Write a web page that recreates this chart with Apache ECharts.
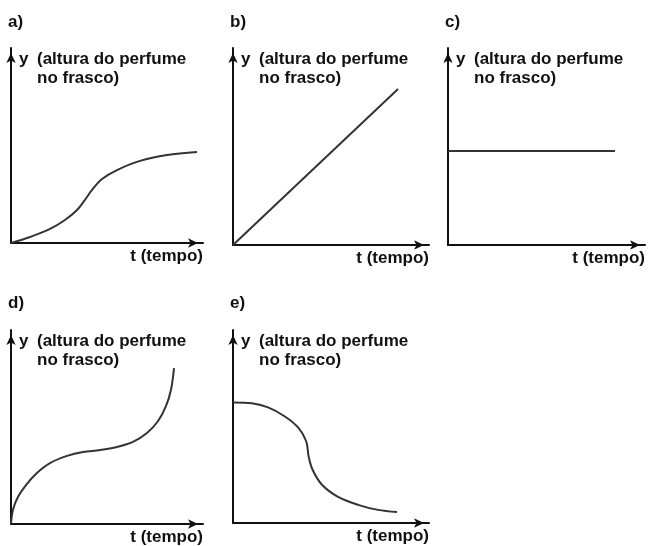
<!DOCTYPE html>
<html>
<head>
<meta charset="utf-8">
<script src="https://cdn.jsdelivr.net/npm/echarts@6/dist/echarts.min.js"></script>
<style>
  html, body { margin: 0; padding: 0; background: #fff; }
  #main { width: 648px; height: 546px; }
</style>
</head>
<body>
<div id="main"></div>
<script>
// curves, [t, y] in 0..100 units of each panel's axes
var curveA = [[0, 0], [9.9, 3.1], [20.3, 7.2], [28.1, 11.8], [34.4, 16.9], [38.5, 22.1], [42.2, 27.2],
  [47.4, 32.8], [55.2, 37.4], [67.2, 42.1], [81.3, 45.1], [96.9, 46.7]];
var curveB = [[0, 0], [84.2, 79.2]];
var curveC = [[0, 47.7], [84.8, 47.7]];
var curveD = [[0, 0], [1.0, 7.2], [3.6, 13.9], [7.8, 20.1], [13.5, 26.3], [20.3, 31.4], [29.2, 35.1],
  [37.5, 37.1], [46.4, 38.1], [55.2, 39.7], [63.5, 42.3], [70.8, 46.9], [76.6, 53.1], [80.7, 60.8],
  [83.3, 69.1], [84.9, 80.4]];
var curveE = [[0, 62.5], [9.7, 62], [17.9, 59.9], [26.5, 55.2], [33.2, 49.5], [37.3, 42.5], [38.6, 34.4],
  [40.6, 27.6], [45.4, 19.8], [53.6, 13.5], [63.8, 9.4], [74, 6.8], [83.7, 5.7]];

var panelLetters = ['a)', 'b)', 'c)', 'd)', 'e)'];
var yTitle = ['y', '(altura do perfume', 'no frasco)'];
var xTitle = 't (tempo)';

var curves = [curveA, curveB, curveC, curveD, curveE];
var smoothOn = [true, false, false, true, true];

// panel boxes: axis origin at bottom-left, arrow tips at top / right
var panels = [
  { left: 11, top: 48, width: 192, height: 195 },
  { left: 233, top: 48, width: 196, height: 197 },
  { left: 448, top: 48, width: 197, height: 197 },
  { left: 11, top: 330, width: 192, height: 194 },
  { left: 233, top: 330, width: 196, height: 193 }
];

var FONT = 'bold 17px "Liberation Sans", Arial, sans-serif';
var INK = '#111';

function axisCfg(idx) {
  return {
    type: 'value', gridIndex: idx, min: 0, max: 100,
    axisLine: {
      show: true, onZero: false,
      symbol: ['none', 'arrow'], symbolSize: [7, 10], symbolOffset: [0, -5],
      lineStyle: { color: INK, width: 2 }
    },
    axisTick: { show: false }, axisLabel: { show: false }, splitLine: { show: false }
  };
}

var grids = [], xAxes = [], yAxes = [], series = [], texts = [];
panels.forEach(function (p, i) {
  grids.push({ left: p.left, top: p.top, width: p.width, height: p.height });
  xAxes.push(axisCfg(i));
  yAxes.push(axisCfg(i));
  series.push({
    type: 'line', xAxisIndex: i, yAxisIndex: i, data: curves[i],
    smooth: smoothOn[i] ? 0.35 : false,
    showSymbol: false, silent: true,
    lineStyle: { color: '#333', width: 2 }
  });

  var top = p.top;
  var x0 = p.left;
  var bottom = p.top + p.height;
  var right = p.left + p.width;
  var letterY = i < 3 ? 22 : 303;
  texts.push({ type: 'text', style: { text: panelLetters[i], x: x0 - 3, y: letterY, font: FONT, fill: INK, textVerticalAlign: 'middle' } });
  texts.push({ type: 'text', style: { text: yTitle[0], x: x0 + 8, y: top + 11, font: FONT, fill: INK, textVerticalAlign: 'middle' } });
  texts.push({ type: 'text', style: { text: yTitle[1], x: x0 + 26, y: top + 11, font: FONT, fill: INK, textVerticalAlign: 'middle' } });
  texts.push({ type: 'text', style: { text: yTitle[2], x: x0 + 26, y: top + 30, font: FONT, fill: INK, textVerticalAlign: 'middle' } });
  texts.push({ type: 'text', style: { text: xTitle, x: right, y: bottom + 13, font: FONT, fill: INK, textAlign: 'right', textVerticalAlign: 'middle' } });
});

var myChart = echarts.init(document.getElementById('main'));
myChart.setOption({
  animation: false,
  backgroundColor: '#fff',
  grid: grids,
  xAxis: xAxes,
  yAxis: yAxes,
  series: series,
  graphic: texts
});
</script>
</body>
</html>
